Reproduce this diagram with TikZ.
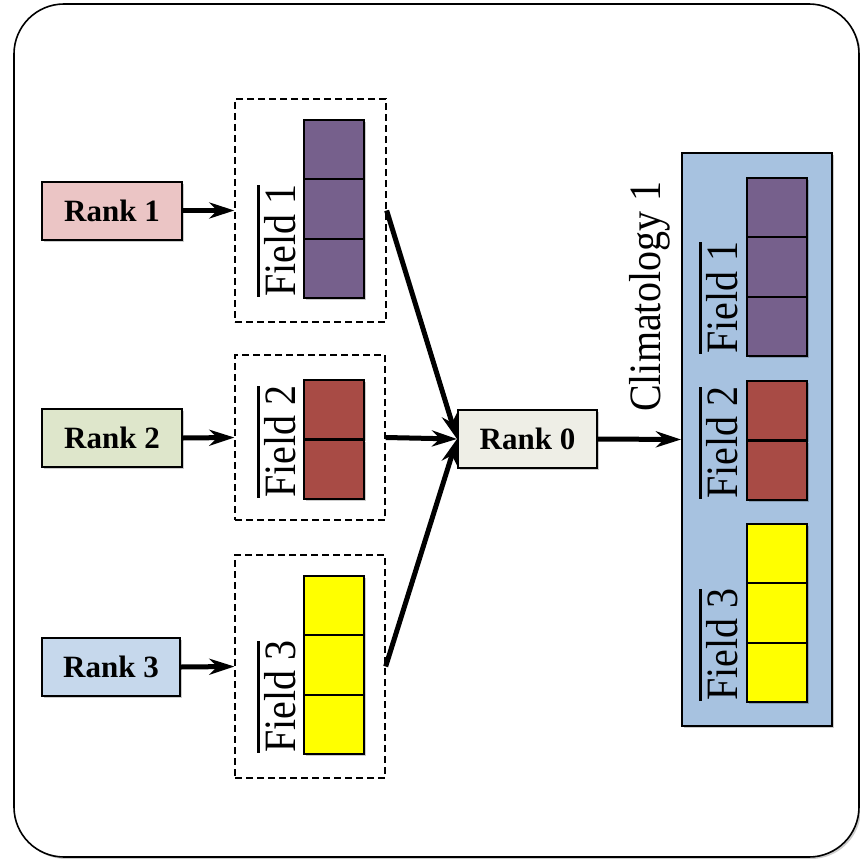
\documentclass[tikz,border=0pt]{standalone}
\usepackage{graphicx}
\usepackage{fontspec}
\setmainfont{Liberation Serif}
\usetikzlibrary{arrows.meta,shadows}

\definecolor{rankone}{RGB}{235,197,197}
\definecolor{ranktwo}{RGB}{222,230,203}
\definecolor{rankthree}{RGB}{198,216,236}
\definecolor{rankzero}{RGB}{238,238,230}
\definecolor{fieldone}{RGB}{118,96,140}
\definecolor{fieldtwo}{RGB}{168,75,69}
\definecolor{fieldthree}{RGB}{255,255,0}
\definecolor{climfill}{RGB}{167,194,224}

\newcommand{\tallword}[1]{\scalebox{1}[1.12]{#1}}
\newcommand{\fieldname}[1]{\vbox{\hrule height 2.5pt\kern 4pt\hbox{\tallword{Field #1}}}}

\begin{document}
\begin{tikzpicture}[x=1pt,y=-1pt,
    softshadow/.style={drop shadow={shadow xshift=2pt,shadow yshift=-2pt,opacity=0.2,fill=black}},
    rank/.style={draw,line width=2pt,minimum width=140pt,minimum height=58pt,inner sep=0,
      font=\fontsize{31}{36}\selectfont\bfseries,softshadow},
    cell/.style={draw,line width=2pt,minimum width=60pt,minimum height=59.3pt,inner sep=0,softshadow},
    group/.style={draw,line width=1.3pt,dash pattern=on 7pt off 4pt,inner sep=0},
    flabel/.style={rotate=90,anchor=base west,inner sep=0,font=\fontsize{40}{46}\selectfont},
    link/.style={line width=5pt,-{Stealth[length=25pt,width=16pt,inset=8pt]}}]
    \useasboundingbox (0,0) rectangle (860,859);

    % Outer frame
    \draw[line width=1.6pt,fill=white,rounded corners=50pt,softshadow] (14,4) rectangle (859,857);

    % Ranks
    \node[rank,fill=rankone] (r1) at (112,210.5) {Rank 1};
    \node[rank,fill=ranktwo] (r2) at (112,438) {Rank 2};
    \node[rank,fill=rankthree,minimum width=138pt] (r3) at (111,667) {Rank 3};
    \node[rank,fill=rankzero,minimum width=139pt] (r0) at (527.5,439) {Rank 0};

    % Dashed groups
    \node[group,minimum width=151pt,minimum height=223pt] (g1) at (310.5,210.5) {};
    \node[group,minimum width=150pt,minimum height=165pt] (g2) at (310,437.5) {};
    \node[group,minimum width=150pt,minimum height=223pt] (g3) at (310,666.5) {};

    % Climatology box
    \node[draw,line width=2pt,fill=climfill,minimum width=150pt,minimum height=573pt,
      inner sep=0,softshadow] (clim) at (757,439.5) {};
    \node[flabel] (climlab) at (660,412) {\tallword{Climatology 1}};

    % Cells of each group
    \foreach \k in {0,1,2}
      {
        \node[cell,fill=fieldone] (fa\k) at (334,{149.65+59.3*\k}) {};
        \node[cell,fill=fieldthree] (fc\k) at (334,{605.65+59.3*\k}) {};
        \node[cell,fill=fieldone] (ca\k) at (777,{207.65+59.3*\k}) {};
        \node[cell,fill=fieldthree] (cc\k) at (777,{553.65+59.3*\k}) {};
      }
    \foreach \k in {0,1}
      {
        \node[cell,fill=fieldtwo] (fb\k) at (334,{409.65+59.5*\k}) {};
        \node[cell,fill=fieldtwo] (cb\k) at (777,{410.65+59.5*\k}) {};
      }

    % Field labels
    \node[flabel] (la) at (295,297) {\fieldname{1}};
    \node[flabel] (lb) at (295,498) {\fieldname{2}};
    \node[flabel] (lc) at (295,753) {\fieldname{3}};
    \node[flabel] (ma) at (737,354) {\fieldname{1}};
    \node[flabel] (mb) at (737,499) {\fieldname{2}};
    \node[flabel] (mc) at (737,701) {\fieldname{3}};

    % Arrows
    \draw[link] (r1.east) -- (g1.west);
    \draw[link] (r2.east) -- (g2.west);
    \draw[link] (r3.east) -- (g3.west);
    \draw[link] (g1.east) -- (r0.west);
    \draw[link] (g2.east) -- (r0.west);
    \draw[link] (g3.east) -- (r0.west);
    \draw[link] (r0.east) -- (clim.west);
  \end{tikzpicture}
\end{document}
